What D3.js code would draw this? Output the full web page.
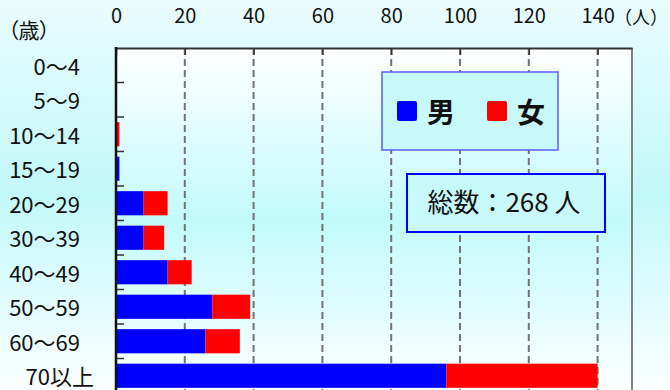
<!DOCTYPE html>
<html>
<head>
<meta charset="utf-8">
<script src="https://cdn.jsdelivr.net/npm/d3@7"></script>
<style>
  body { margin: 0; }
  svg { display: block; font-family: "Noto Sans CJK JP", "Noto Sans", sans-serif; }
  .unit { font-feature-settings: "palt"; }
</style>
</head>
<body>
<svg id="chart" width="670" height="390"></svg>
<script>
// age groups (top to bottom)
var ages = ["0～4", "5～9", "10～14", "15～19", "20～29", "30～39", "40～49", "50～59", "60～69", "70以上"];
// counts
var male   = [0, 0, 0, 1, 8, 8, 15, 28, 26, 96];
var female = [0, 0, 1, 0, 7, 6, 7, 11, 10, 44];
var xTicks = [0, 20, 40, 60, 80, 100, 120, 140];
var seriesNames = ["男", "女"];
var seriesColors = ["#0000ff", "#ff0000"];
var totalLabel = "総数：268 人";

var svg = d3.select("#chart");
var W = 670, H = 390;
var pLeft = 116, pRight = 632, pTop = 48, pBottom = 393;

//
//Gradients for the backgrounds
//
var defs = svg.append("defs");
var g1 = defs.append("linearGradient").attr("id", "bgOuter")
  .attr("x1", 0).attr("y1", 0).attr("x2", 0).attr("y2", 1);
g1.append("stop").attr("offset", "0%").attr("stop-color", "#eafcfd");
g1.append("stop").attr("offset", "50%").attr("stop-color", "#c2f8fa");
g1.append("stop").attr("offset", "100%").attr("stop-color", "#fbffff");

var g2 = defs.append("linearGradient").attr("id", "bgPlot")
  .attr("x1", 0).attr("y1", 0).attr("x2", 0).attr("y2", 1);
g2.append("stop").attr("offset", "0%").attr("stop-color", "#ffffff");
g2.append("stop").attr("offset", "50%").attr("stop-color", "#c2fafc");
g2.append("stop").attr("offset", "100%").attr("stop-color", "#ffffff");

svg.append("rect").attr("width", W).attr("height", H).attr("fill", "url(#bgOuter)");
svg.append("rect").attr("x", pLeft).attr("y", pTop)
  .attr("width", pRight - pLeft).attr("height", pBottom - pTop)
  .attr("fill", "url(#bgPlot)");

//
//Scales
//
var x = d3.scaleLinear().domain([0, 150]).range([pLeft, pRight]);
var y = d3.scaleBand().domain(ages).range([pTop, pBottom])
  .paddingInner(0.3).paddingOuter(0.15);

//Dashed grid lines
svg.append("g").selectAll("line")
  .data(xTicks.filter(function(d) { return d > 0; }))
  .join("line")
  .attr("x1", function(d) { return x(d); })
  .attr("x2", function(d) { return x(d); })
  .attr("y1", pTop).attr("y2", pBottom)
  .attr("stroke", "#737373").attr("stroke-width", 2)
  .attr("stroke-dasharray", "7,4");

//Right border
svg.append("line")
  .attr("x1", pRight).attr("x2", pRight).attr("y1", pTop).attr("y2", pBottom)
  .attr("stroke", "#808080").attr("stroke-width", 2);

//
//Stacked bars
//
var rows = ages.map(function(a, i) {
  return { age: a, "男": male[i], "女": female[i] };
});
var stack = d3.stack().keys(seriesNames)(rows);

svg.append("g").selectAll("g")
  .data(stack)
  .join("g")
  .attr("fill", function(d, i) { return seriesColors[i]; })
  .selectAll("rect")
  .data(function(d) { return d; })
  .join("rect")
  .attr("x", function(d) { return x(d[0]); })
  .attr("y", function(d) { return y(d.data.age); })
  .attr("width", function(d) { return x(d[1]) - x(d[0]); })
  .attr("height", y.bandwidth());

//
//Top axis
//
var xAxis = svg.append("g")
  .attr("transform", "translate(0," + pTop + ")")
  .call(d3.axisTop(x).tickValues(xTicks).tickSizeInner(-7).tickSizeOuter(0).tickPadding(25));
xAxis.select(".domain").attr("stroke", "#333").attr("stroke-width", 2);
xAxis.selectAll(".tick line").attr("stroke", "#333").attr("stroke-width", 1.5);
xAxis.selectAll(".tick text")
  .attr("font-size", 20).attr("fill", "#111")
  .attr("font-family", "'Noto Sans CJK JP', sans-serif");

//Left axis: labels and short ticks on category boundaries
var step = y.step();
svg.append("g").selectAll("line")
  .data(ages.slice(1))
  .join("line")
  .attr("x1", pLeft).attr("x2", pLeft + 8)
  .attr("y1", function(d) { return y(d) - step * 0.15; })
  .attr("y2", function(d) { return y(d) - step * 0.15; })
  .attr("stroke", "#333").attr("stroke-width", 1.5);

svg.append("line")
  .attr("x1", pLeft).attr("x2", pLeft).attr("y1", pTop - 1).attr("y2", pBottom)
  .attr("stroke", "#111").attr("stroke-width", 2.5);

svg.append("g").selectAll("text")
  .data(ages)
  .join("text")
  .attr("x", function(d) { return d === "70以上" ? 94 : 80; })
  .attr("y", function(d) { return y(d) + y.bandwidth() / 2 + 2; })
  .attr("dy", "0.35em")
  .attr("text-anchor", "end")
  .attr("font-size", 22)
  .attr("fill", "#111")
  .text(function(d) { return d; });

//Unit labels
svg.append("text").attr("class", "unit").attr("x", 8).attr("y", 38)
  .attr("font-size", 21).attr("fill", "#111").text("（歳）");
svg.append("text").attr("x", 614).attr("y", 24)
  .attr("font-size", 18).attr("fill", "#111").text("（人）");

//
//Legend
//
var legend = svg.append("g");
legend.append("rect").attr("x", 382).attr("y", 72).attr("width", 176).attr("height", 78)
  .attr("fill", "#c8f9fa").attr("stroke", "#5c5cff").attr("stroke-width", 1.5);
seriesNames.forEach(function(s, i) {
  legend.append("rect").attr("x", 397 + i * 90).attr("y", 101)
    .attr("width", 20).attr("height", 20).attr("rx", 2)
    .attr("fill", seriesColors[i]);
  legend.append("text").attr("x", 427 + i * 90).attr("y", 123)
    .attr("font-size", 28).attr("font-weight", "bold").attr("fill", "#111")
    .text(s);
});

//Total box
svg.append("rect").attr("x", 407).attr("y", 174).attr("width", 198).attr("height", 58)
  .attr("fill", "#c8f9fa").attr("stroke", "#0000ff").attr("stroke-width", 2);
svg.append("text").attr("x", 504).attr("y", 212)
  .attr("text-anchor", "middle").attr("font-size", 26).attr("fill", "#111")
  .text(totalLabel);
</script>
</body>
</html>
